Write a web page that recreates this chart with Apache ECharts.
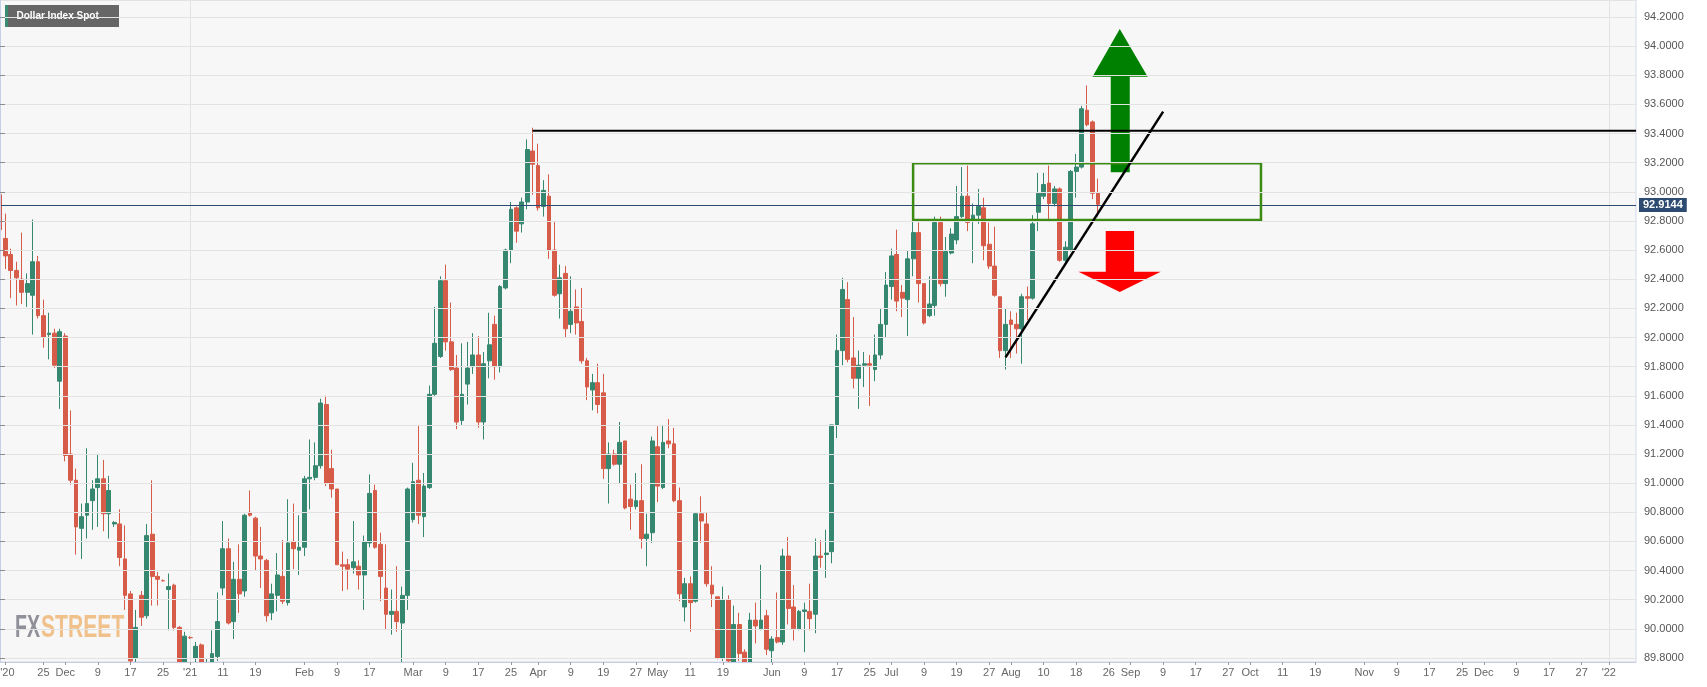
<!DOCTYPE html>
<html>
<head>
<meta charset="utf-8">
<script src="https://cdn.jsdelivr.net/npm/echarts@6/dist/echarts.min.js"></script>
<style>
html,body{margin:0;padding:0;background:#ffffff;}
#chart{width:1707px;height:687px;}
</style>
</head>
<body>
<div id="chart"></div>
<script>
// ---------- DATA ----------
const title = 'Dollar Index Spot';
const startDate = '2020-11-13';   // first trading day on the axis
const categoryCount = 302;        // weekdays shown on the axis (through Jan 2022)

const opens = [
92.98,92.68,92.57,92.46,92.40,92.31,92.29,92.52,92.15,92.02,
92.03,91.70,92.01,91.20,91.02,90.69,90.78,90.88,90.97,91.03,
90.79,90.72,90.72,90.48,90.24,89.80,90.23,90.09,90.65,90.36,
90.33,90.27,90.30,90.01,89.70,89.94,89.80,89.89,89.45,89.70,
89.81,90.28,90.55,90.05,90.34,90.26,90.80,90.76,90.50,90.47,
90.11,90.23,90.36,90.18,90.60,90.54,90.56,91.03,91.04,91.12,
91.54,91.10,90.96,90.44,90.44,90.42,90.43,90.37,90.59,90.95,
90.58,90.28,90.10,90.12,90.04,90.23,90.75,91.02,90.77,90.97,
91.61,91.87,92.39,91.97,91.79,91.43,91.68,91.80,91.88,91.42,
91.84,92.09,91.80,92.34,92.60,92.89,92.78,92.93,93.28,93.18,
92.90,92.97,92.60,92.30,92.44,92.09,92.21,92.11,91.84,91.64,
91.69,91.62,91.10,91.20,91.13,91.29,90.89,90.84,90.88,90.62,
90.66,91.25,90.97,91.29,91.27,90.88,90.15,90.31,90.19,90.79,
90.72,90.30,90.22,89.80,90.20,89.74,90.03,89.84,89.70,90.06,
90.00,90.09,89.85,89.94,89.91,90.50,90.15,90.00,90.12,90.12,
90.10,90.50,90.51,90.53,91.40,91.91,92.26,91.86,91.72,91.81,
91.82,91.78,91.88,92.09,92.35,92.57,92.31,92.26,92.54,92.72,
92.37,92.15,92.22,92.79,92.37,92.58,92.67,92.83,92.97,92.81,
92.84,92.89,92.64,92.49,92.28,91.91,92.12,92.09,92.06,92.28,
92.27,92.86,92.97,93.06,92.92,93.02,92.53,92.60,93.14,93.17,
93.56,93.48,92.99
];
const closes = [
92.74,92.56,92.46,92.41,92.31,92.37,92.52,92.15,92.00,92.03,
91.81,92.04,91.19,91.02,90.70,90.77,90.86,90.96,91.03,90.79,
90.95,90.73,90.49,90.23,89.78,90.01,90.08,90.64,90.36,90.34,
90.33,90.29,90.01,89.68,89.95,89.94,89.88,89.45,89.55,89.83,
90.05,90.55,90.04,90.34,90.24,90.78,90.78,90.50,90.48,90.09,
90.24,90.37,90.19,90.59,90.55,90.56,91.03,91.04,91.12,91.55,
91.00,90.96,90.44,90.43,90.41,90.46,90.37,90.60,90.93,90.56,
90.36,90.10,90.12,90.05,90.23,90.96,91.01,90.78,90.98,91.61,
91.96,92.39,91.97,91.78,91.42,91.61,91.79,91.88,91.42,91.82,
91.95,91.80,92.35,92.60,92.88,92.73,92.93,93.29,93.19,92.89,
93.01,92.60,92.29,92.41,92.06,92.18,92.10,91.84,91.66,91.69,
91.54,91.10,91.20,91.13,91.28,90.83,90.84,90.88,90.62,90.65,
91.29,90.98,91.28,91.27,90.88,90.24,90.31,90.18,90.79,90.74,
90.31,90.24,89.80,90.20,89.78,90.03,89.83,89.70,90.06,90.02,
90.06,89.86,89.93,89.91,90.50,90.14,90.00,90.12,90.13,90.07,
90.50,90.49,90.52,91.40,91.91,92.33,91.85,91.72,91.81,91.82,
91.81,91.88,92.09,92.36,92.56,92.25,92.27,92.54,92.72,92.37,
92.10,92.23,92.79,92.37,92.59,92.71,92.83,92.97,92.79,92.84,
92.90,92.63,92.49,92.29,91.91,92.09,92.09,92.06,92.28,92.27,
92.78,92.99,93.05,92.92,93.02,92.53,92.62,93.14,93.17,93.57,
93.46,92.99,92.9144
];
const lows = [
92.73,92.47,92.27,92.22,92.23,92.21,92.02,92.13,91.93,91.85,
91.79,91.51,91.15,90.99,90.51,90.48,90.62,90.68,90.70,90.67,
90.62,90.70,90.43,90.13,89.72,89.72,90.02,90.07,90.16,90.16,
90.33,89.99,89.99,89.62,89.66,89.93,89.70,89.40,89.21,89.65,
89.78,90.23,90.03,89.93,90.11,90.22,90.77,90.40,90.28,90.05,
90.06,90.12,90.17,90.16,90.41,90.37,90.50,90.82,91.02,91.10,
90.98,90.90,90.44,90.26,90.27,90.38,90.27,90.13,90.56,90.55,
90.19,90.00,89.96,89.98,89.68,90.13,90.73,90.72,90.63,90.96,
91.60,91.86,91.91,91.77,91.37,91.40,91.54,91.75,91.38,91.30,
91.72,91.71,91.76,92.33,92.51,92.65,92.72,92.88,92.98,92.87,
92.83,92.54,92.28,92.13,92.00,92.03,92.02,91.82,91.57,91.50,
91.48,91.03,90.86,91.12,91.00,90.82,90.68,90.82,90.55,90.43,
90.59,90.87,90.96,91.24,90.87,90.19,90.05,89.98,90.18,90.59,
90.29,90.15,89.79,89.78,89.70,89.70,89.78,89.65,89.66,89.90,
89.99,89.82,89.75,89.90,89.89,90.03,89.92,89.99,89.84,89.99,
89.97,90.42,90.35,90.45,91.31,91.81,91.83,91.65,91.51,91.66,
91.53,91.70,91.85,92.00,92.26,92.18,92.14,92.01,92.42,92.24,
92.09,92.14,92.15,92.35,92.28,92.57,92.64,92.82,92.73,92.51,
92.78,92.53,92.47,92.28,91.86,91.78,91.86,91.89,91.82,92.12,
92.26,92.73,92.95,92.81,92.90,92.52,92.51,92.59,92.96,93.16,
93.45,92.95,92.83
];
const highs = [
93.00,92.85,92.61,92.52,92.72,92.44,92.81,92.56,92.26,92.17,
92.06,92.06,92.03,91.50,91.10,90.86,91.24,91.02,91.20,91.16,
91.05,90.74,90.82,90.71,90.26,90.13,90.26,90.72,91.02,90.39,
90.34,90.38,90.31,90.02,89.98,89.95,89.91,89.90,89.80,89.99,
90.25,90.74,90.62,90.46,90.58,90.79,90.95,90.77,90.70,90.48,
90.31,90.52,90.61,90.89,90.86,90.78,91.05,91.30,91.28,91.58,
91.60,91.23,90.96,90.53,90.48,90.74,90.47,90.64,91.06,90.99,
90.66,90.58,90.27,90.43,90.29,90.97,91.14,91.40,91.07,91.67,
92.21,92.42,92.50,92.24,91.88,91.96,91.97,92.03,92.01,91.90,
92.17,92.15,92.36,92.61,92.93,92.90,92.96,93.36,93.44,93.33,
93.08,93.12,92.80,92.50,92.49,92.42,92.33,92.34,91.86,91.75,
91.82,91.75,91.28,91.23,91.42,91.29,90.99,91.07,91.13,90.79,
91.32,91.39,91.40,91.44,91.38,90.97,90.35,90.36,90.80,90.91,
90.80,90.43,90.22,90.29,90.23,90.16,90.11,89.86,90.11,90.18,
90.44,90.13,89.95,90.25,90.55,90.63,90.30,90.13,90.18,90.31,
90.62,90.61,90.68,91.40,92.02,92.41,92.38,92.14,91.91,91.90,
91.88,92.02,92.20,92.45,92.61,92.74,92.36,92.60,92.80,92.79,
92.37,92.42,92.83,92.83,92.69,92.75,93.04,93.17,93.18,92.92,
93.02,92.96,92.79,92.76,92.28,92.20,92.18,92.17,92.30,92.35,
92.84,93.13,93.13,93.18,93.04,93.03,92.66,93.15,93.26,93.59,
93.73,93.49,93.09
];

const tickDates = [
'2020-11-16','2020-11-25','2020-12-01','2020-12-09','2020-12-17','2020-12-25',
'2021-01-01','2021-01-11','2021-01-19','2021-02-01','2021-02-09','2021-02-17',
'2021-03-01','2021-03-09','2021-03-17','2021-03-25','2021-04-01','2021-04-09',
'2021-04-19','2021-04-27','2021-05-03','2021-05-11','2021-05-19','2021-06-01',
'2021-06-09','2021-06-17','2021-06-25','2021-07-01','2021-07-09','2021-07-19',
'2021-07-27','2021-08-02','2021-08-10','2021-08-18','2021-08-26','2021-09-01',
'2021-09-09','2021-09-17','2021-09-27','2021-10-01','2021-10-11','2021-10-19',
'2021-11-01','2021-11-09','2021-11-17','2021-11-25','2021-12-01','2021-12-09',
'2021-12-17','2021-12-27','2022-01-03'
];
const tickLabels = [
"'20",'25','Dec','9','17','25',
"'21",'11','19','Feb','9','17',
'Mar','9','17','25','Apr','9',
'19','27','May','11','19','Jun',
'9','17','25','Jul','9','19',
'27','Aug','10','18','26','Sep',
'9','17','27','Oct','11','19',
'Nov','9','17','25','Dec','9',
'17','27',"'22"
];
const yearLineDates = ['2021-01-01','2022-01-03'];

// annotations, in (trading-day index, price) units
const resistance = {from: 98, to: 301, price: 93.42};
const trendLine = {x1: 185, y1: 91.864, x2: 214, y2: 93.55};
const zoneBox = {x1: 168, x2: 232, top: 93.196, bottom: 92.807};
const upArrow = [[206.02,94.118],[211.16,93.79],[207.86,93.79],[207.86,93.134],[204.36,93.134],[204.36,93.79],[201.0,93.79]];
const downArrow = [[203.44,92.731],[208.65,92.731],[208.65,92.452],[213.56,92.452],[206.02,92.312],[198.42,92.452],[203.44,92.452]];

// ---------- BUILD ----------
function weekdays(start, n) {
  const out = [];
  const d = new Date(start + 'T00:00:00Z');
  while (out.length < n) {
    const w = d.getUTCDay();
    if (w !== 0 && w !== 6) out.push(d.toISOString().slice(0, 10));
    d.setUTCDate(d.getUTCDate() + 1);
  }
  return out;
}
const dates = weekdays(startDate, categoryCount);
const candles = opens.map((o, i) => [o, closes[i], lows[i], highs[i]]);
const lastClose = closes[closes.length - 1];

const tickMap = {};
tickDates.forEach((d, i) => { tickMap[d] = tickLabels[i]; });
const isTick = (idx, val) => tickMap[val] !== undefined;

const UP = '#35876f', DOWN = '#d75b49';
const FONT = '"Liberation Sans", Arial, sans-serif';
const GRID = {left: 0, right: 71, top: 0, bottom: 25};

const chart = echarts.init(document.getElementById('chart'), null, {renderer: 'canvas'});

const option = {
  animation: false,
  backgroundColor: '#ffffff',
  grid: Object.assign({show: true, backgroundColor: '#f7f7f7', borderColor: '#d3d9ea', borderWidth: 1,
                       containLabel: false, outerBoundsMode: 'none'}, GRID),
  xAxis: [{
    // year separators only
    type: 'category', data: dates, boundaryGap: false, position: 'bottom',
    axisLine: {show: false}, axisTick: {show: false}, axisLabel: {show: false},
    splitLine: {show: true, interval: (i, v) => yearLineDates.indexOf(v) >= 0, lineStyle: {color: '#e3e3e3', width: 1}}
  }, {
    type: 'value', min: 0, max: categoryCount - 1, show: false, position: 'bottom'
  }, {
    // visible date axis, drawn above the bottom mask
    type: 'category', data: dates, boundaryGap: false, z: 10, position: 'bottom', offset: 0,
    axisLine: {show: true, lineStyle: {color: '#c8cedf', width: 1}},
    axisTick: {show: true, interval: isTick, length: 3, lineStyle: {color: '#999999'}},
    axisLabel: {
      interval: isTick,
      color: '#666666', fontSize: 11, fontFamily: FONT, margin: 5,
      formatter: function (v) {
        const t = tickMap[v];
        if (t === undefined) return '';
        return v === tickDates[0] ? '{first|' + t + '}' : t;
      },
      rich: {first: {color: '#666666', fontSize: 11, fontFamily: FONT, padding: [0, 0, 0, 4]}}
    },
    splitLine: {show: false}
  }],
  yAxis: {
    type: 'value',
    position: 'right',
    min: 89.7725, max: 94.3167, splitNumber: 22,
    z: 10,
    axisLine: {show: true, lineStyle: {color: '#c8cfe6'}},
    axisTick: {show: true, length: 5, lineStyle: {color: '#8c8c8c'}},
    axisLabel: {
      formatter: v => v.toFixed(4), color: '#555555', fontSize: 11, fontFamily: FONT,
      margin: 8, showMinLabel: false, showMaxLabel: false
    },
    splitLine: {show: true, lineStyle: {color: '#e3e3e3', width: 1}}
  },
  series: [{
    type: 'candlestick',
    xAxisIndex: 0, yAxisIndex: 0,
    data: candles,
    barWidth: 4.3,
    clip: true,
    silent: true,
    itemStyle: {color: UP, color0: DOWN, borderColor: UP, borderColor0: DOWN, borderWidth: 1},
    markLine: {
      silent: true, animation: false, symbol: ['none', 'none'],
      data: [{yAxis: lastClose}],
      lineStyle: {color: '#2d4a70', width: 1, type: 'solid'},
      label: {
        show: true, position: 'end', distance: 3,
        formatter: () => lastClose.toFixed(4),
        backgroundColor: '#2d4a70', color: '#ffffff', fontWeight: 'bold',
        fontSize: 11, fontFamily: FONT, padding: [2, 4, 1, 4]
      },
      emphasis: {disabled: true}
    }
  }, {
    type: 'custom',
    xAxisIndex: 1, yAxisIndex: 0,
    silent: true, clip: false, z: 5,
    data: [[0, 92]],
    encode: {x: 0, y: 1},
    renderItem: function (params, api) {
      const pts = arr => arr.map(p => api.coord(p));
      const r1 = api.coord([zoneBox.x1, zoneBox.top]);
      const r2 = api.coord([zoneBox.x2, zoneBox.bottom]);
      const a = api.coord([resistance.from, resistance.price]);
      const b = api.coord([resistance.to, resistance.price]);
      const t1 = api.coord([trendLine.x1, trendLine.y1]);
      const t2 = api.coord([trendLine.x2, trendLine.y2]);
      return {
        type: 'group',
        children: [
          {type: 'polygon', z2: 1, shape: {points: pts(upArrow)}, style: {fill: '#008000'}},
          {type: 'polygon', z2: 1, shape: {points: pts(downArrow)}, style: {fill: '#ff0000'}},
          {type: 'rect', z2: 2, shape: {x: r1[0], y: r1[1], width: r2[0] - r1[0], height: r2[1] - r1[1]},
            style: {fill: 'none', stroke: '#3c8c14', lineWidth: 2.5}},
          {type: 'line', z2: 3, shape: {x1: a[0], y1: a[1], x2: b[0], y2: b[1]},
            style: {stroke: '#000000', lineWidth: 2}},
          {type: 'line', z2: 3, shape: {x1: t1[0], y1: t1[1], x2: t2[0], y2: t2[1]},
            style: {stroke: '#000000', lineWidth: 2.5}}
        ]
      };
    }
  }],
  graphic: [{
    // white mask below the plot so candles are cut at the date axis
    type: 'rect', left: 0, bottom: 0, z: 8, silent: true,
    shape: {width: 1707 - GRID.right, height: GRID.bottom - 0.5},
    style: {fill: '#ffffff'}
  }, {
    type: 'group', left: 5, top: 5, z: 10,
    children: [
      {type: 'rect', shape: {x: 0, y: 0, width: 114, height: 22}, style: {fill: '#666666'}},
      {type: 'rect', shape: {x: 0, y: 0, width: 3, height: 22}, style: {fill: '#3b8b73'}},
      {type: 'text', x: 11.5, y: 11.5, style: {text: title, fill: '#ffffff', font: 'bold 10px ' + FONT, verticalAlign: 'middle', align: 'left'}}
    ]
  }, {
    type: 'text', x: 15, y: 628, scaleX: 0.61, z: 1,
    style: {text: 'FX', fill: '#8f9098', font: 'bold 32px ' + FONT, verticalAlign: 'middle', align: 'left'}
  }, {
    type: 'text', x: 41, y: 628, scaleX: 0.66, z: 1,
    style: {text: 'STREET', fill: '#f1c18b', font: 'bold 32px ' + FONT, verticalAlign: 'middle', align: 'left'}
  }]
};
chart.setOption(option);
</script>
</body>
</html>
